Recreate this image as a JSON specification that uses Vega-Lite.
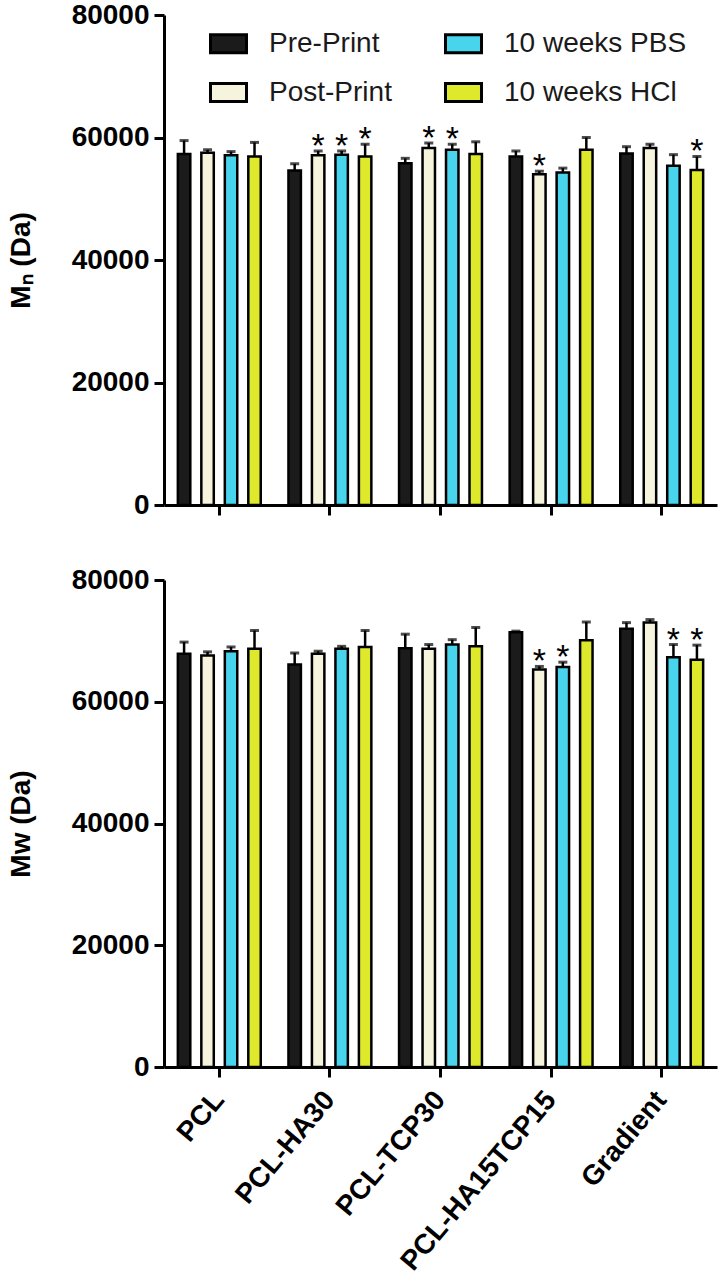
{
  "$schema": "https://vega.github.io/schema/vega-lite/v6.json",
  "padding": {"left": 7, "top": 1, "right": 2, "bottom": 0},
  "background": "white",
  "config": {
    "view": {"stroke": null},
    "font": "Liberation Sans",
    "axis": {
      "domainColor": "black", "domainWidth": 3, "tickColor": "black", "tickWidth": 3, "tickSize": 10,
      "labelFont": "Liberation Sans", "labelFontWeight": "bold", "labelFontSize": 28, "labelColor": "black",
      "titleFont": "Liberation Sans", "titleFontSize": 28, "titleFontWeight": "bold", "titleColor": "black",
      "grid": false, "labelPadding": 5, "labelLimit": 400
    },
    "concat": {"spacing": 47}
  },
  "data": {"values": [
    {"panel": "Mn", "group": "PCL", "cond": "Pre-Print", "value": 57300, "upper": 59500, "star": false},
    {"panel": "Mn", "group": "PCL", "cond": "Post-Print", "value": 57500, "upper": 58000, "star": false},
    {"panel": "Mn", "group": "PCL", "cond": "10 weeks PBS", "value": 57100, "upper": 57700, "star": false},
    {"panel": "Mn", "group": "PCL", "cond": "10 weeks HCl", "value": 56900, "upper": 59200, "star": false},
    {"panel": "Mn", "group": "PCL-HA30", "cond": "Pre-Print", "value": 54600, "upper": 55700, "star": false},
    {"panel": "Mn", "group": "PCL-HA30", "cond": "Post-Print", "value": 57100, "upper": 57800, "star": true},
    {"panel": "Mn", "group": "PCL-HA30", "cond": "10 weeks PBS", "value": 57200, "upper": 57800, "star": true},
    {"panel": "Mn", "group": "PCL-HA30", "cond": "10 weeks HCl", "value": 56900, "upper": 58900, "star": true},
    {"panel": "Mn", "group": "PCL-TCP30", "cond": "Pre-Print", "value": 55800, "upper": 56600, "star": false},
    {"panel": "Mn", "group": "PCL-TCP30", "cond": "Post-Print", "value": 58300, "upper": 59100, "star": true},
    {"panel": "Mn", "group": "PCL-TCP30", "cond": "10 weeks PBS", "value": 58000, "upper": 58900, "star": true},
    {"panel": "Mn", "group": "PCL-TCP30", "cond": "10 weeks HCl", "value": 57300, "upper": 59300, "star": false},
    {"panel": "Mn", "group": "PCL-HA15TCP15", "cond": "Pre-Print", "value": 56900, "upper": 57800, "star": false},
    {"panel": "Mn", "group": "PCL-HA15TCP15", "cond": "Post-Print", "value": 54000, "upper": 54500, "star": true},
    {"panel": "Mn", "group": "PCL-HA15TCP15", "cond": "10 weeks PBS", "value": 54300, "upper": 55000, "star": false},
    {"panel": "Mn", "group": "PCL-HA15TCP15", "cond": "10 weeks HCl", "value": 58000, "upper": 60000, "star": false},
    {"panel": "Mn", "group": "Gradient", "cond": "Pre-Print", "value": 57400, "upper": 58500, "star": false},
    {"panel": "Mn", "group": "Gradient", "cond": "Post-Print", "value": 58300, "upper": 58900, "star": false},
    {"panel": "Mn", "group": "Gradient", "cond": "10 weeks PBS", "value": 55400, "upper": 57200, "star": false},
    {"panel": "Mn", "group": "Gradient", "cond": "10 weeks HCl", "value": 54700, "upper": 56900, "star": true},
    {"panel": "Mw", "group": "PCL", "cond": "Pre-Print", "value": 67900, "upper": 69800, "star": false},
    {"panel": "Mw", "group": "PCL", "cond": "Post-Print", "value": 67600, "upper": 68200, "star": false},
    {"panel": "Mw", "group": "PCL", "cond": "10 weeks PBS", "value": 68300, "upper": 69000, "star": false},
    {"panel": "Mw", "group": "PCL", "cond": "10 weeks HCl", "value": 68700, "upper": 71700, "star": false},
    {"panel": "Mw", "group": "PCL-HA30", "cond": "Pre-Print", "value": 66100, "upper": 68000, "star": false},
    {"panel": "Mw", "group": "PCL-HA30", "cond": "Post-Print", "value": 67900, "upper": 68300, "star": false},
    {"panel": "Mw", "group": "PCL-HA30", "cond": "10 weeks PBS", "value": 68700, "upper": 69100, "star": false},
    {"panel": "Mw", "group": "PCL-HA30", "cond": "10 weeks HCl", "value": 69000, "upper": 71700, "star": false},
    {"panel": "Mw", "group": "PCL-TCP30", "cond": "Pre-Print", "value": 68800, "upper": 71100, "star": false},
    {"panel": "Mw", "group": "PCL-TCP30", "cond": "Post-Print", "value": 68700, "upper": 69400, "star": false},
    {"panel": "Mw", "group": "PCL-TCP30", "cond": "10 weeks PBS", "value": 69400, "upper": 70200, "star": false},
    {"panel": "Mw", "group": "PCL-TCP30", "cond": "10 weeks HCl", "value": 69100, "upper": 72200, "star": false},
    {"panel": "Mw", "group": "PCL-HA15TCP15", "cond": "Pre-Print", "value": 71400, "upper": 71600, "star": false},
    {"panel": "Mw", "group": "PCL-HA15TCP15", "cond": "Post-Print", "value": 65300, "upper": 65800, "star": true},
    {"panel": "Mw", "group": "PCL-HA15TCP15", "cond": "10 weeks PBS", "value": 65700, "upper": 66500, "star": true},
    {"panel": "Mw", "group": "PCL-HA15TCP15", "cond": "10 weeks HCl", "value": 70100, "upper": 73100, "star": false},
    {"panel": "Mw", "group": "Gradient", "cond": "Pre-Print", "value": 72000, "upper": 73000, "star": false},
    {"panel": "Mw", "group": "Gradient", "cond": "Post-Print", "value": 73000, "upper": 73500, "star": false},
    {"panel": "Mw", "group": "Gradient", "cond": "10 weeks PBS", "value": 67300, "upper": 69400, "star": true},
    {"panel": "Mw", "group": "Gradient", "cond": "10 weeks HCl", "value": 66900, "upper": 69300, "star": true}
  ]},
  "resolve": {"legend": {"color": "independent"}},
  "vconcat": [
    {
      "width": 553, "height": 490,
      "transform": [{"filter": "datum.panel === 'Mn'"}],
      "encoding": {
        "x": {"field": "group", "type": "nominal", "sort": ["PCL", "PCL-HA30", "PCL-TCP30", "PCL-HA15TCP15", "Gradient"], "scale": {"paddingInner": 0, "paddingOuter": 0}, "axis": {"labels": false, "title": null}},
        "xOffset": {"field": "cond", "type": "nominal", "sort": ["Pre-Print", "Post-Print", "10 weeks PBS", "10 weeks HCl"], "scale": {"paddingInner": 0.47, "paddingOuter": 0.59}}
      },
      "layer": [
        {"mark": {"type": "rule", "strokeWidth": 2.5, "color": "black"},
         "encoding": {"y": {"field": "value", "type": "quantitative", "scale": {"domain": [0, 80000], "nice": false}, "axis": {"title": "Mₙ (Da)", "values": [0, 20000, 40000, 60000, 80000], "format": "d", "titlePadding": 36}}, "y2": {"field": "upper"}}},
        {"mark": {"type": "tick", "thickness": 3, "size": 9, "color": "black"},
         "encoding": {"y": {"field": "upper", "type": "quantitative", "axis": {"title": "Mₙ (Da)", "values": [0, 20000, 40000, 60000, 80000], "format": "d", "titlePadding": 36}}}},
        {"mark": {"type": "bar", "stroke": "black", "strokeWidth": 2.5, "opacity": 1},
         "encoding": {
           "y": {"field": "value", "type": "quantitative", "axis": {"title": "Mₙ (Da)", "values": [0, 20000, 40000, 60000, 80000], "format": "d", "titlePadding": 36}},
           "color": {"field": "cond", "type": "nominal",
             "scale": {"domain": ["Pre-Print", "10 weeks PBS", "Post-Print", "10 weeks HCl"], "range": ["#1b1b1b", "#48d4ec", "#f6f4dc", "#dfe92b"]},
             "legend": {"orient": "none", "legendX": 45, "legendY": 9, "columns": 2, "title": null, "direction": "horizontal",
               "symbolType": "M-1,-0.5H1V0.5H-1Z", "symbolSize": 1296, "symbolStrokeWidth": 3, "symbolStrokeColor": "black", "symbolOpacity": 1,
               "labelFont": "Liberation Sans", "labelFontSize": 28, "labelFontWeight": "normal", "labelColor": "#1a1a1a", "labelOffset": 21, "labelLimit": 400,
               "columnPadding": 47, "rowPadding": 14, "padding": 0}}
         }},
        {"transform": [{"filter": "datum.star"}],
         "mark": {"type": "text", "text": "*", "fontSize": 34, "font": "Liberation Sans", "baseline": "alphabetic", "dy": 6, "color": "black"},
         "encoding": {"y": {"field": "upper", "type": "quantitative", "axis": {"title": "Mₙ (Da)", "values": [0, 20000, 40000, 60000, 80000], "format": "d", "titlePadding": 36}}}}
      ]
    },
    {
      "width": 553, "height": 487,
      "transform": [{"filter": "datum.panel === 'Mw'"}],
      "encoding": {
        "x": {"field": "group", "type": "nominal", "sort": ["PCL", "PCL-HA30", "PCL-TCP30", "PCL-HA15TCP15", "Gradient"], "scale": {"paddingInner": 0, "paddingOuter": 0}, "axis": {"title": null, "labelAngle": -50, "labelAlign": "right", "labelBaseline": "middle", "labelPadding": 18, "labelFontSize": 28}},
        "xOffset": {"field": "cond", "type": "nominal", "sort": ["Pre-Print", "Post-Print", "10 weeks PBS", "10 weeks HCl"], "scale": {"paddingInner": 0.47, "paddingOuter": 0.59}}
      },
      "layer": [
        {"mark": {"type": "rule", "strokeWidth": 2.5, "color": "black"},
         "encoding": {"y": {"field": "value", "type": "quantitative", "scale": {"domain": [0, 80000], "nice": false}, "axis": {"title": "Mw (Da)", "values": [0, 20000, 40000, 60000, 80000], "format": "d", "titlePadding": 36}}, "y2": {"field": "upper"}}},
        {"mark": {"type": "tick", "thickness": 3, "size": 9, "color": "black"},
         "encoding": {"y": {"field": "upper", "type": "quantitative", "axis": {"title": "Mw (Da)", "values": [0, 20000, 40000, 60000, 80000], "format": "d", "titlePadding": 36}}}},
        {"mark": {"type": "bar", "stroke": "black", "strokeWidth": 2.5, "opacity": 1},
         "encoding": {
           "y": {"field": "value", "type": "quantitative", "axis": {"title": "Mw (Da)", "values": [0, 20000, 40000, 60000, 80000], "format": "d", "titlePadding": 36}},
           "color": {"field": "cond", "type": "nominal",
             "scale": {"domain": ["Pre-Print", "10 weeks PBS", "Post-Print", "10 weeks HCl"], "range": ["#1b1b1b", "#48d4ec", "#f6f4dc", "#dfe92b"]},
             "legend": null}
         }},
        {"transform": [{"filter": "datum.star"}],
         "mark": {"type": "text", "text": "*", "fontSize": 34, "font": "Liberation Sans", "baseline": "alphabetic", "dy": 6, "color": "black"},
         "encoding": {"y": {"field": "upper", "type": "quantitative", "axis": {"title": "Mw (Da)", "values": [0, 20000, 40000, 60000, 80000], "format": "d", "titlePadding": 36}}}}
      ]
    }
  ]
}
